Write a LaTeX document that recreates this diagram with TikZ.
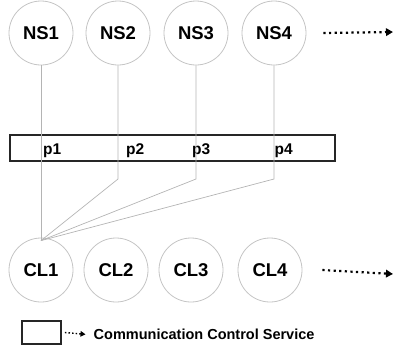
\documentclass[tikz,border=0pt]{standalone}
\usepackage{fontspec}
\setmainfont{Liberation Sans}
\usetikzlibrary{arrows.meta}
\definecolor{ringgray}{HTML}{C4C4C4}
\definecolor{wiregray}{HTML}{B4B4B4}
\definecolor{boxdark}{HTML}{262626}
\tikzset{
  station/.style={circle, draw=ringgray, line width=0.8pt, minimum size=64pt,
    inner sep=0pt, font=\fontsize{18.5}{18.5}\selectfont\bfseries},
  wire/.style={draw=wiregray, line width=0.7pt},
  servicebox/.style={draw=boxdark, line width=1.8pt, inner sep=0pt},
  portlabel/.style={anchor=base west, inner sep=0pt,
    font=\fontsize{15.5}{15.5}\selectfont\bfseries},
  moreto/.style={line width=2.2pt, dash pattern=on 2.2pt off 3.4pt,
    -{Triangle[length=7pt,width=7.5pt]}},
}
\begin{document}
\begin{tikzpicture}[x=1pt, y=-1pt]
  \useasboundingbox (0,0) rectangle (395,349);

  % name servers
  \node[station] (NS1) at (41,33)  {NS1};
  \node[station] (NS2) at (118,33) {NS2};
  \node[station] (NS3) at (196,33) {NS3};
  \node[station] (NS4) at (274,33) {NS4};

  % clients
  \node[station] (CL1) at (41,270)  {CL1};
  \node[station] (CL2) at (116,270) {CL2};
  \node[station] (CL3) at (191,270) {CL3};
  \node[station] (CL4) at (270,270) {CL4};

  % communication control service bar
  \node[servicebox, minimum width=325pt, minimum height=26pt] (ccs) at (172.5,148) {};
  \node[portlabel] (p1) at (43,154.5) {p1};
  \node[portlabel] (p2) at (126,154.5) {p2};
  \node[portlabel] (p3) at (192,154.5) {p3};
  \node[portlabel] (p4) at (274.5,154.5) {p4};

  % connections from each name server to CL1
  \coordinate (hub) at ([yshift=-3pt]CL1.north);
  \draw[wire] (NS1.south) -- (hub);
  \draw[wire] (NS2.south) -- (NS2.south |- 0,179) -- (hub);
  \draw[wire] (NS3.south) -- (NS3.south |- 0,179) -- (hub);
  \draw[wire] (NS4.south) -- (NS4.south |- 0,179) -- (hub);

  % continuation arrows
  \coordinate (nsmore) at (393,32);
  \coordinate (clmore) at (393,274);
  \draw[moreto] ([xshift=17pt]NS4.east) -- (nsmore);
  \draw[moreto] ([xshift=20pt]CL4.east) -- (clmore);

  % legend
  \node[servicebox, minimum width=39pt, minimum height=23pt] (legbox) at (41.5,332.5) {};
  \node[anchor=base west, inner sep=0pt, font=\fontsize{14.5}{14.5}\selectfont\bfseries]
    (legtext) at (93.5,339.5) {Communication Control Service};
  \draw[line width=1.4pt, dash pattern=on 1.5pt off 2.1pt,
    -{Triangle[length=5pt,width=5.5pt]}]
    ([xshift=3pt]legbox.east) -- ([xshift=-8pt]legtext.west);
\end{tikzpicture}
\end{document}
